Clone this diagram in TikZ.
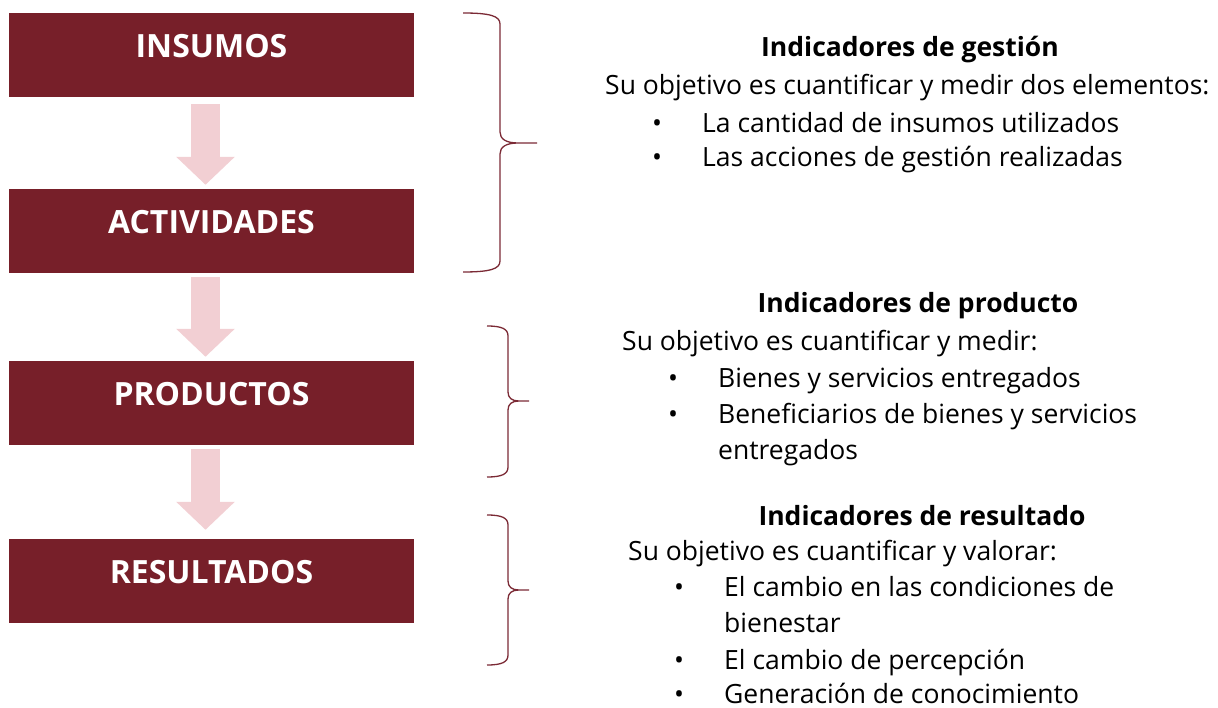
\documentclass[tikz,border=0pt]{standalone}
\usepackage{fontspec}
\setmainfont{Open Sans}
\usetikzlibrary{arrows.meta,positioning}
\definecolor{vino}{HTML}{771F29}
\definecolor{rosa}{HTML}{F2CFD3}
\definecolor{llavecol}{HTML}{7B2A35}
\newcommand{\vineta}{\makebox[50pt][l]{•}}

\begin{document}
\begin{tikzpicture}[x=1pt,y=-1pt,
	caja/.style={fill=vino,minimum width=405pt,minimum height=84pt,inner sep=0pt},
	etiq/.style={text=white,font=\fontsize{32}{36}\selectfont\bfseries,yshift=9pt},
	flecha/.style={rosa,line width=29pt,-{Triangle[width=57pt,length=28pt]}},
	llave/.style={llavecol,line width=1.3pt},
	titulo/.style={font=\fontsize{26.5}{32}\selectfont\bfseries,anchor=base},
	linea/.style={font=\fontsize{26.5}{32}\selectfont,anchor=base west,inner sep=0pt}]
	\useasboundingbox (0,0) rectangle (1218,708);
				\node[caja,label={[etiq]center:INSUMOS}](ins) at (211.5,55) {};
				\node[caja,label={[etiq]center:ACTIVIDADES}](act) at (211.5,231) {};
				\node[caja,label={[etiq]center:PRODUCTOS}](prod) at (211.5,403) {};
				\node[caja,label={[etiq]center:RESULTADOS}](res) at (211.5,581) {};
			 	\draw[flecha]([xshift=-6pt,yshift=-7pt]ins.south) -- ([xshift=-6pt,yshift=4pt]act.north);
			 	\draw[flecha]([xshift=-6pt,yshift=-4pt]act.south) -- ([xshift=-6pt,yshift=4pt]prod.north);
			 	\draw[flecha]([xshift=-6pt,yshift=-4pt]prod.south) -- ([xshift=-6pt,yshift=9pt]res.north);
				% llaves
				\draw[llave] (463,13) .. controls (490,13) and (500,16) .. (500,24) -- (500,132)
					.. controls (500,139) and (506,143) .. (518,143) -- (537,143)
					-- (518,143) .. controls (506,143) and (500,147) .. (500,154) -- (500,261)
					.. controls (500,269) and (490,272) .. (463,272);
				\draw[llave] (487,326) .. controls (502,326) and (508,329) .. (508,336) -- (508,392)
					.. controls (508,398) and (512,401) .. (519,401) -- (529,401)
					-- (519,401) .. controls (512,401) and (508,404) .. (508,410) -- (508,467)
					.. controls (508,474) and (502,477) .. (487,477);
				\draw[llave] (487,515) .. controls (502,515) and (508,518) .. (508,525) -- (508,581)
					.. controls (508,587) and (512,590) .. (519,590) -- (529,590)
					-- (519,590) .. controls (512,590) and (508,593) .. (508,599) -- (508,655)
					.. controls (508,662) and (502,665) .. (487,665);
				% gestion
				\node[titulo](tg) at (910,57) {Indicadores de gestión};
				\node[linea](g0) at (605,95) {Su objetivo es cuantificar y medir dos elementos:};
				\node[linea](g1) at (652,133) {\vineta La cantidad de insumos utilizados};
				\node[linea](g2) at (652,167) {\vineta Las acciones de gestión realizadas};
				% producto
				\node[titulo](tp) at (918,313) {Indicadores de producto};
				\node[linea](p0) at (622,351) {Su objetivo es cuantificar y medir:};
				\node[linea](p1) at (668,388) {\vineta Bienes y servicios entregados};
				\node[linea](p2) at (668,423) {\vineta Beneficiarios de bienes y servicios};
				\node[linea](p3) at (718,459) {entregados};
				% resultado
				\node[titulo](tr) at (922,525) {Indicadores de resultado};
				\node[linea](r0) at (628,560) {Su objetivo es cuantificar y valorar:};
				\node[linea](r1) at (674,596) {\vineta El cambio en las condiciones de};
				\node[linea](r2) at (724,632) {bienestar};
				\node[linea](r3) at (674,669) {\vineta El cambio de percepción};
				\node[linea](r4) at (674,703) {\vineta Generación de conocimiento};
\end{tikzpicture}
\end{document}
